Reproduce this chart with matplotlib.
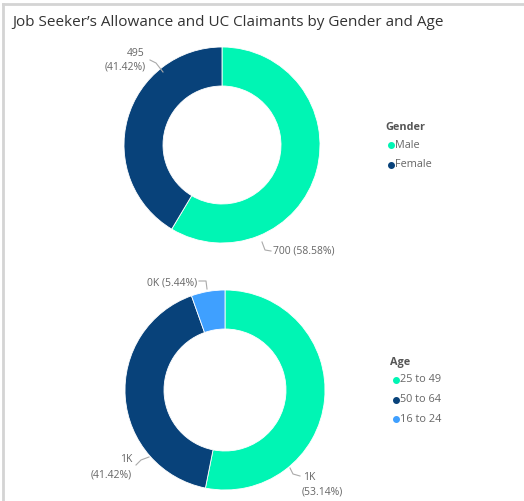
import matplotlib.pyplot as plt

plt.rcParams['font.family'] = ['Open Sans', 'DejaVu Sans']

gender_labels = ['Male', 'Female']
gender_values = [700, 495]
gender_pct = ['58.58%', '41.42%']

age_labels = ['25 to 49', '50 to 64', '16 to 24']
age_pct_values = [53.14, 41.42, 5.44]
age_text = ['1K', '1K', '0K']

teal = '#00F5B4'
navy = '#08427A'
blue = '#3FA0FF'

W, H = 524, 501
fig = plt.figure(figsize=(W / 100, H / 100), dpi=100)
ax = fig.add_axes([0, 0, 1, 1])

def py(y):
    # pixel rows from the top
    return H - y

ax.pie(gender_values, colors=[teal, navy], startangle=90, counterclock=False,
       radius=98, center=(222, py(145)),
       wedgeprops=dict(width=39, edgecolor='white', linewidth=0.6))
ax.pie(age_pct_values, colors=[teal, navy, blue], startangle=90, counterclock=False,
       radius=100, center=(225, py(390)),
       wedgeprops=dict(width=39, edgecolor='white', linewidth=0.6))

ax.set_xlim(0, W)
ax.set_ylim(0, H)
ax.set_aspect('auto')
ax.axis('off')

# frame lines
ax.plot([3, W], [py(4), py(4)], color='#d4d4d4', lw=2)
ax.plot([3, 3], [py(4), 0], color='#d4d4d4', lw=2)

ax.text(12, py(22), 'Job Seeker\u2019s Allowance and UC Claimants by Gender and Age',
        fontsize=11, color='#333333', va='center', ha='left')

lab = dict(fontsize=7.5, color='#666666')
lead = dict(color='#aaaaaa', lw=0.8)

# top donut labels
ax.text(145, py(53), str(gender_values[1]), ha='right', va='center', **lab)
ax.text(146, py(67), '(' + gender_pct[1] + ')', ha='right', va='center', **lab)
ax.plot([150, 156, 163], [py(60), py(63), py(72)], **lead)
ax.text(273, py(251), '%d (%s)' % (gender_values[0], gender_pct[0]), ha='left', va='center', **lab)
ax.plot([262, 265, 271], [py(242), py(250), py(251)], **lead)

# bottom donut labels
ax.text(197, py(283), '%s (%.2f%%)' % (age_text[2], age_pct_values[2]), ha='right', va='center', **lab)
ax.plot([199, 206, 207], [py(281), py(281), py(289)], **lead)
ax.text(132, py(460), age_text[1], ha='right', va='center', **lab)
ax.text(132, py(475), '(%.2f%%)' % age_pct_values[1], ha='right', va='center', **lab)
ax.plot([136, 141, 149], [py(465), py(460), py(457)], **lead)
ax.text(303, py(478), age_text[0], ha='left', va='center', **lab)
ax.text(302, py(492), '(%.2f%%)' % age_pct_values[0], ha='left', va='center', **lab)
ax.plot([290, 293, 300], [py(468), py(474), py(476)], **lead)

def legend(x, y, title, labels, colors):
    ax.text(x - 6, py(y), title, fontsize=7.8, fontweight='bold', color='#555555',
            ha='left', va='center')
    for i, (l, c) in enumerate(zip(labels, colors)):
        yy = y + 18 + i * 19.5
        ax.plot([x], [py(yy)], marker='o', ms=4, color=c, lw=0)
        ax.text(x + 3.5, py(yy), l, fontsize=7.8, color='#666666', ha='left', va='center')

legend(391, 127, 'Gender', gender_labels, [teal, navy])
legend(396, 362, 'Age', age_labels, [teal, navy, blue])

fig.savefig('out.png', dpi=100)
